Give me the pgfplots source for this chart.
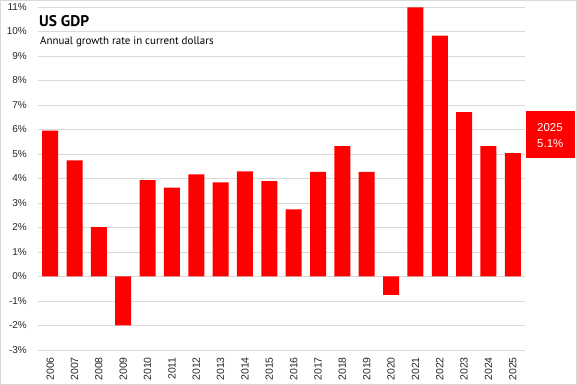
\documentclass[border=0pt]{standalone}
\usepackage{fontspec}
\setmainfont{Liberation Sans}
\newfontfamily\ptsans{PT Sans}
\usepackage{pgfplots}
\pgfplotsset{compat=1.18}
\definecolor{barred}{RGB}{255,0,0}
\definecolor{gridgray}{RGB}{217,217,217}
\begin{document}
\begin{tikzpicture}
\useasboundingbox (0,0) rectangle (577bp,385bp);
\draw[gridgray, line width=0.8bp] (0.5bp,0.5bp) rectangle (576.5bp,384.5bp);
\begin{axis}[
  at={(38bp,35bp)}, anchor=south west, scale only axis,
  width=487bp, height=343bp,
  xmin=-0.5, xmax=19.5, ymin=-3, ymax=11,
  axis line style={draw=none},
  major tick length=0pt,
  ymajorgrids, grid style={gridgray, line width=0.8bp},
  ytick={-3,-2,...,11},
  yticklabels={-3\%,-2\%,-1\%,0\%,1\%,2\%,3\%,4\%,5\%,6\%,7\%,8\%,9\%,10\%,11\%},
  xtick={0,1,...,19},
  xticklabels={2006,2007,2008,2009,2010,2011,2012,2013,2014,2015,2016,2017,2018,2019,2020,2021,2022,2023,2024,2025},
  y tick label style={inner sep=0pt, xshift=-11bp, font=\fontsize{10}{12}\selectfont, text=black!85},
  x tick label style={yshift=-7bp, rotate=90, anchor=east, inner sep=0pt, font=\fontsize{10.5}{12}\selectfont, text=black!85},
  ybar, bar width=16bp,
  clip=false,
]
\addplot[fill=barred, draw=none] coordinates {
(0,5.95) (1,4.74) (2,2.02) (3,-2.0) (4,3.93) (5,3.63) (6,4.17) (7,3.84) (8,4.29) (9,3.89)
(10,2.74) (11,4.27) (12,5.32) (13,4.27) (14,-0.75) (15,10.98) (16,9.83) (17,6.71) (18,5.32) (19,5.04)
};
\end{axis}
\node[anchor=base west, inner sep=0pt] at (39bp,358.3bp) {\ptsans\bfseries\fontsize{15.5}{18}\selectfont US GDP};
\node[anchor=base west, inner sep=0pt] at (40bp,340.7bp) {\ptsans\fontsize{11}{13}\selectfont Annual growth rate in current dollars};
\fill[barred] (526bp,227bp) rectangle (575bp,274bp);
\node[anchor=base west, inner sep=0pt, text=white] at (537bp,253.3bp) {\fontsize{11.5}{14}\selectfont 2025};
\node[anchor=base west, inner sep=0pt, text=white] at (537bp,237.7bp) {\fontsize{11.5}{14}\selectfont 5.1\%};
\end{tikzpicture}
\end{document}
